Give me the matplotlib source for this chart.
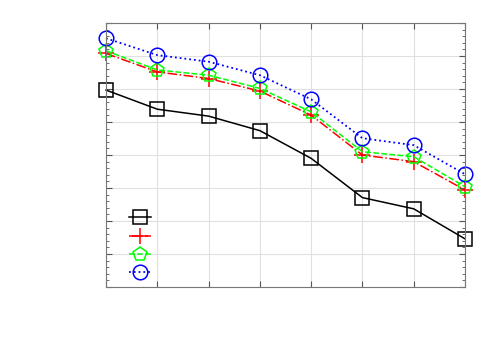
import matplotlib
matplotlib.use("Agg")
import matplotlib.pyplot as plt
from matplotlib.ticker import MultipleLocator, NullFormatter

x = [1, 2, 3, 4, 5, 6, 7, 8]
black = [5.97, 5.39, 5.18, 4.74, 3.90, 2.71, 2.37, 1.46]
red = [7.08, 6.52, 6.32, 5.94, 5.21, 4.00, 3.80, 2.94]
green = [7.16, 6.58, 6.42, 6.02, 5.31, 4.10, 3.95, 3.04]
blue = [7.54, 7.03, 6.83, 6.42, 5.69, 4.51, 4.30, 3.42]

fig = plt.figure(figsize=(5, 3.5), dpi=100)
ax = fig.add_axes([0.212, 0.18, 0.718, 0.754])

ax.plot(x, black, color='black', ls='-', lw=1.1, marker='s', ms=10.5, mfc='none', mew=1.1, label=' ', clip_on=False)
ax.plot(x, red, color='red', ls='-.', lw=1.1, marker='+', ms=11, mew=1.1, label=' ', clip_on=False)
ax.plot(x, green, color='#00ff00', ls='--', lw=1.1, marker='p', ms=10, mfc='none', mew=1.1, label=' ', clip_on=False)
ax.plot(x, blue, color='blue', ls=':', lw=1.3, marker='o', ms=10.5, mfc='none', mew=1.1, label=' ', clip_on=False)

ax.set_xlim(1, 8)
ax.set_ylim(0, 8)
ax.xaxis.set_major_locator(MultipleLocator(1))
ax.yaxis.set_major_locator(MultipleLocator(1))
ax.yaxis.set_minor_locator(MultipleLocator(0.2))
ax.xaxis.set_major_formatter(NullFormatter())
ax.yaxis.set_major_formatter(NullFormatter())
ax.tick_params(which='both', direction='in', top=True, right=True, color='#555555')
ax.tick_params(which='major', length=4)
ax.tick_params(which='minor', length=2)
ax.grid(True, color='#e0e0e0', lw=0.8)
ax.set_axisbelow(True)
for s in ax.spines.values():
    s.set_color('#777777')
    s.set_linewidth(0.8)

leg = ax.legend(loc='lower left', bbox_to_anchor=(0.03, -0.02), frameon=False,
                handlelength=1.6, labelspacing=0.3, handletextpad=0.2)

fig.savefig('out.png', dpi=100)
